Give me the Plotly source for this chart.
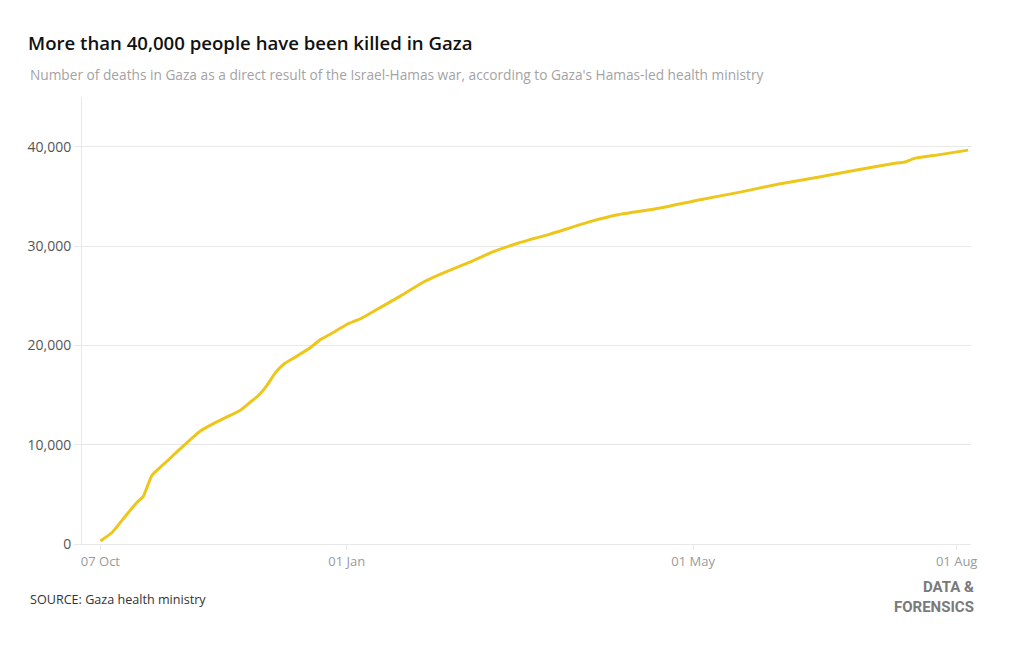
import plotly.graph_objects as go

# Data
dates = [
    "2023-10-07", "2023-10-11", "2023-10-16", "2023-10-20", "2023-10-22", "2023-10-25",
    "2023-10-30", "2023-11-03", "2023-11-07", "2023-11-11", "2023-11-16", "2023-11-21",
    "2023-11-25", "2023-11-28", "2023-12-01", "2023-12-04", "2023-12-07", "2023-12-10",
    "2023-12-14", "2023-12-19", "2023-12-23", "2023-12-28", "2024-01-01", "2024-01-06",
    "2024-01-13", "2024-01-20", "2024-01-28", "2024-02-03", "2024-02-13", "2024-02-21",
    "2024-03-01", "2024-03-12", "2024-03-26", "2024-04-05", "2024-04-19", "2024-05-03",
    "2024-05-17", "2024-05-31", "2024-06-14", "2024-06-28", "2024-07-11", "2024-07-14",
    "2024-07-17", "2024-07-25", "2024-08-05",
]
deaths = [
    300, 1130, 2900, 4250, 4800, 6900,
    8270, 9350, 10400, 11400, 12200, 12900,
    13500, 14200, 14900, 15900, 17200, 18100,
    18800, 19700, 20600, 21400, 22100, 22700,
    23850, 25000, 26400, 27200, 28370, 29400,
    30300, 31200, 32450, 33170, 33800, 34640,
    35400, 36250, 36950, 37700, 38350, 38450,
    38800, 39150, 39650,
]

x_tick_vals = ["2023-10-07", "2024-01-01", "2024-05-01", "2024-08-01"]
x_tick_text = ["07 Oct", "01 Jan", "01 May", "01 Aug"]
y_tick_vals = [0, 10000, 20000, 30000, 40000]
y_tick_text = ["0", "10,000", "20,000", "30,000", "40,000"]

title_text = "More than 40,000 people have been killed in Gaza"
subtitle_text = ("Number of deaths in Gaza as a direct result of the Israel-Hamas war, "
                 "according to Gaza's Hamas-led health ministry")
source_text = "SOURCE: Gaza health ministry"

FONT = "Open Sans, Noto Sans, sans-serif"
GRID = "#e8e8e8"

# the page body has an 8px margin; work in page pixels and subtract it
OFF = 8
W, H = 1020 - 2 * OFF, 650 - 2 * OFF
L, R, T, B = 82 - OFF, 971 - OFF, 97 - OFF, 544 - OFF


def px(xp):
    return (xp - OFF - L) / (R - L)


def py(yp):
    return (B - (yp - OFF)) / (B - T)


fig = go.Figure()
fig.add_trace(go.Scatter(
    x=dates, y=deaths, mode="lines",
    line=dict(color="#EEC61A", width=3, shape="spline", smoothing=0.4),
    hoverinfo="skip", showlegend=False,
))

fig.update_layout(
    width=W, height=H,
    margin=dict(l=L, r=W - R, t=T, b=H - B, autoexpand=False),
    paper_bgcolor="white", plot_bgcolor="white",
    font=dict(family=FONT),
    title=dict(
        text=title_text, x=(28 - OFF) / W, xanchor="left", xref="container",
        y=1 - (43 - OFF) / H, yanchor="middle", yref="container",
        font=dict(family=FONT, size=18.6, color="#111111", weight=600),
    ),
    xaxis=dict(
        type="date",
        range=["2023-09-30 14:00", "2024-08-06 00:00"],
        tickmode="array", tickvals=x_tick_vals, ticktext=x_tick_text,
        showgrid=False, zeroline=False,
        showline=True, linecolor=GRID, linewidth=1,
        ticks="outside", ticklen=5, tickcolor=GRID,
        tickfont=dict(family=FONT, size=13, color="#9a9a9a"),
        fixedrange=True,
    ),
    yaxis=dict(
        range=[0, 45000],
        tickmode="array", tickvals=y_tick_vals, ticktext=y_tick_text,
        showgrid=True, gridcolor=GRID, gridwidth=1, zeroline=False,
        showline=True, linecolor=GRID, linewidth=1,
        ticks="outside", ticklen=7, tickcolor=GRID,
        tickfont=dict(family=FONT, size=14, color="#555555"),
        fixedrange=True,
    ),
    annotations=[
        dict(text=subtitle_text, xref="paper", yref="paper",
             x=px(28), y=py(75), xanchor="left", yanchor="middle",
             showarrow=False, font=dict(family=FONT, size=13.7, color="#a3a3a3")),
        dict(text=source_text, xref="paper", yref="paper",
             x=px(28), y=py(599), xanchor="left", yanchor="middle",
             showarrow=False, font=dict(family=FONT, size=12.6, color="#333333")),
        dict(text="DATA &amp;<br>FORENSICS", xref="paper", yref="paper",
             x=px(976), y=py(597), xanchor="right", yanchor="middle", align="right",
             showarrow=False,
             font=dict(family="Roboto, sans-serif", weight=700,
                       size=15, color="#7a7a7a")),
    ],
)

fig.write_html("out.html")
